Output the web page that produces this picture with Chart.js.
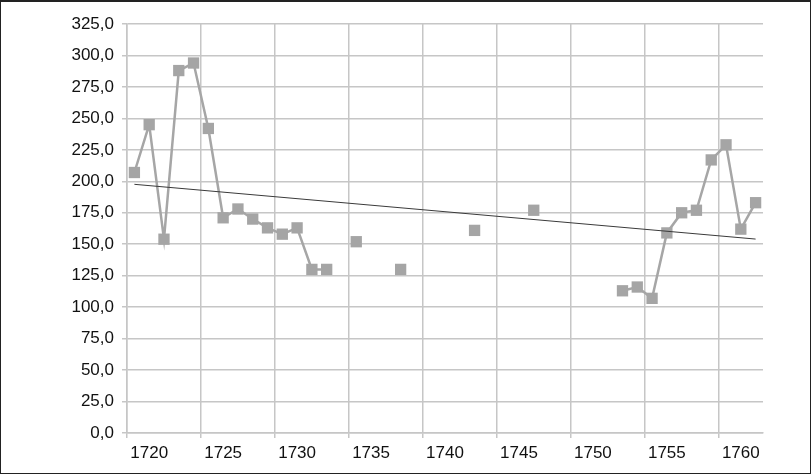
<!DOCTYPE html>
<html>
<head>
<meta charset="utf-8">
<script src="https://cdn.jsdelivr.net/npm/chart.js@4/dist/chart.umd.min.js"></script>
<style>
  html, body { margin: 0; padding: 0; background: #fff; }
  #frame {
    position: absolute; left: 0; top: 0;
    width: 811px; height: 474px;
    box-sizing: border-box;
    border: 1px solid #222; border-top-width: 2px;
    background: #fff;
  }
</style>
</head>
<body>
<div id="frame"><canvas id="chart" width="809" height="471"></canvas></div>
<script>
const years = [
  1719, 1720, 1721, 1722, 1723, 1724, 1725, 1726, 1727, 1728,
  1729, 1730, 1731, 1732, 1733, 1734, 1735, 1736, 1737, 1738,
  1739, 1740, 1741, 1742, 1743, 1744, 1745, 1746, 1747, 1748,
  1749, 1750, 1751, 1752, 1753, 1754, 1755, 1756, 1757, 1758,
  1759, 1760, 1761
]
const values = [
  207, 245, 154, 288, 294, 242, 171, 178, 170, 163,
  158, 163, 130, 130, null, 152, null, null, 130, null,
  null, null, null, 161, null, null, null, 177, null, null,
  null, null, null, 113, 116, 107, 159, 175, 177, 217,
  229, 162, 183
]
// trend line: only the two end points
const trendYears = [1719, 1761]
const trendValues = [197.6, 154.1]

const trend = years.map(y => {
    const i = trendYears.indexOf(y)
    return i >= 0 ? trendValues[i] : null
})

const GRID = '#c6c6c6'
const FONT = { family: "'Liberation Sans', Arial, sans-serif", size: 17 }

new Chart(document.getElementById('chart'), {
    type: 'line',
    data: {
        labels: years,
        datasets: [
            {
                label: 'trend',
                data: trend,
                borderColor: '#3a3a3a',
                borderWidth: 1,
                pointRadius: 0,
                spanGaps: true,
                fill: false
            },
            {
                label: 'values',
                data: values,
                borderColor: '#a6a6a6',
                borderWidth: 2.5,
                pointStyle: 'rect',
                pointRadius: 8,
                pointBackgroundColor: '#a5a5a5',
                pointBorderWidth: 0,
                spanGaps: false,
                tension: 0,
                fill: false
            }
        ]
    },
    options: {
        responsive: false,
        animation: false,
        layout: { padding: { left: 0, right: 47, top: 22, bottom: 0 } },
        plugins: {
            legend: { display: false },
            tooltip: { enabled: false }
        },
        scales: {
            x: {
                type: 'category',
                offset: true,
                afterFit: function (scale) { scale.height = 40 },
                grid: {
                    offset: true,
                    lineWidth: 1.5,
                    tickLength: 5,
                    color: function (ctx) {
                        return ctx.index % 5 === 0 ? GRID : 'transparent'
                    }
                },
                border: { color: GRID, width: 1.5 },
                ticks: {
                    autoSkip: false,
                    maxRotation: 0,
                    minRotation: 0,
                    padding: 5,
                    color: '#111',
                    font: FONT,
                    callback: function (value, index) {
                        const y = years[index]
                        return y % 5 === 0 ? String(y) : ''
                    }
                }
            },
            y: {
                min: 0,
                max: 325,
                afterFit: function (scale) { scale.width = 126 },
                grid: { color: GRID, lineWidth: 1.5, tickLength: 5 },
                border: { color: GRID, width: 1.5 },
                ticks: {
                    stepSize: 25,
                    padding: 8,
                    color: '#111',
                    font: FONT,
                    callback: function (v) {
                        return v.toFixed(1).replace('.', ',')
                    }
                }
            }
        }
    }
});
</script>
</body>
</html>
